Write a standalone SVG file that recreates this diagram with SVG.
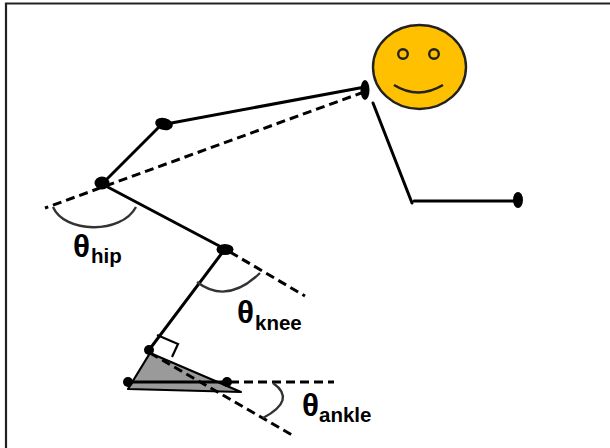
<svg xmlns="http://www.w3.org/2000/svg" width="610" height="448" viewBox="0 0 610 448">
  <style>
    .solid { fill: none; stroke: #000; stroke-width: 3; stroke-linecap: round; }
    .dash { fill: none; stroke: #000; stroke-width: 3; stroke-dasharray: 9 5; }
    .arc { fill: none; stroke: #333; stroke-width: 2.4; }
    .joint { fill: #000; }
    .theta { font-family: "Liberation Sans", Arial, sans-serif; font-weight: bold; font-size: 31px; fill: #000; }
    .sub { font-family: "Liberation Sans", Arial, sans-serif; font-weight: bold; font-size: 20.5px; fill: #000; }
  </style>

  <rect x="0" y="0" width="610" height="448" fill="#fff"/>
  <!-- frame -->
  <path d="M6,448 V3.5 H610" fill="none" stroke="#222" stroke-width="2.2"/>

  <!-- head -->
  <g id="head">
    <ellipse cx="419.5" cy="67" rx="46.5" ry="42" fill="#FFC000" stroke="#222" stroke-width="2.4"/>
    <circle cx="403" cy="54" r="4.8" fill="#FFC000" stroke="#222" stroke-width="2.4"/>
    <circle cx="434" cy="54" r="4.8" fill="#FFC000" stroke="#222" stroke-width="2.4"/>
    <path d="M394,85 Q418,100 443,85" fill="none" stroke="#222" stroke-width="2.6"/>
  </g>

  <!-- foot -->
  <g id="foot">
    <polygon points="150,353 128,389 241,392" fill="#9a9a9a" stroke="#000" stroke-width="2.2" stroke-linejoin="round"/>
  </g>

  <g id="connectors">
    <!-- body segments -->
    <line class="solid" x1="365" y1="87" x2="166" y2="124"/>
    <line class="solid" x1="162" y1="124" x2="102" y2="184"/>
    <line class="solid" x1="102" y1="184" x2="225" y2="249"/>
    <line class="solid" x1="225" y1="249" x2="149" y2="350"/>
    <line class="solid" x1="373" y1="103" x2="412" y2="203"/>
    <line class="solid" x1="414" y1="201" x2="518" y2="201"/>
    <line class="solid" x1="128" y1="382" x2="227" y2="382"/>
    <!-- reference lines -->
    <line class="dash" x1="364" y1="92" x2="45" y2="208"/>
    <line class="dash" x1="230" y1="252" x2="305" y2="296"/>
    <line class="dash" x1="150" y1="353" x2="292" y2="435"/>
    <line class="dash" x1="230" y1="382" x2="334" y2="382"/>
    <!-- right angle mark -->
    <path d="M157,335 L178,344 L172,357" fill="none" stroke="#000" stroke-width="2.2"/>
    <!-- angle arcs -->
    <path class="arc" d="M53,207 C64,233 121,235 136,207"/>
    <path class="arc" d="M197,282 Q227,305 260,273"/>
    <path class="arc" d="M273,383 Q297,400 263,418"/>
  </g>

  <!-- joints -->
  <g id="joints">
    <ellipse class="joint" cx="365" cy="90" rx="4.5" ry="10"/>
    <ellipse class="joint" cx="164" cy="124" rx="9" ry="6" transform="rotate(15 164 124)"/>
    <ellipse class="joint" cx="102" cy="183" rx="7.5" ry="6.5"/>
    <ellipse class="joint" cx="225" cy="249.5" rx="8.5" ry="5.5"/>
    <circle class="joint" cx="149" cy="350" r="5"/>
    <circle class="joint" cx="128" cy="382" r="5"/>
    <circle class="joint" cx="227" cy="382" r="5"/>
    <ellipse class="joint" cx="518" cy="200" rx="5" ry="8"/>
  </g>

  <!-- labels -->
  <g id="label-hip">
    <text class="theta" x="73" y="257" textLength="17" lengthAdjust="spacingAndGlyphs">θ</text>
    <text class="sub" x="91" y="263">hip</text>
  </g>
  <g id="label-knee">
    <text class="theta" x="237" y="323" textLength="17" lengthAdjust="spacingAndGlyphs">θ</text>
    <text class="sub" x="255" y="330">knee</text>
  </g>
  <g id="label-ankle">
    <text class="theta" x="302" y="416" textLength="17" lengthAdjust="spacingAndGlyphs">θ</text>
    <text class="sub" x="319" y="422">ankle</text>
  </g>
</svg>
